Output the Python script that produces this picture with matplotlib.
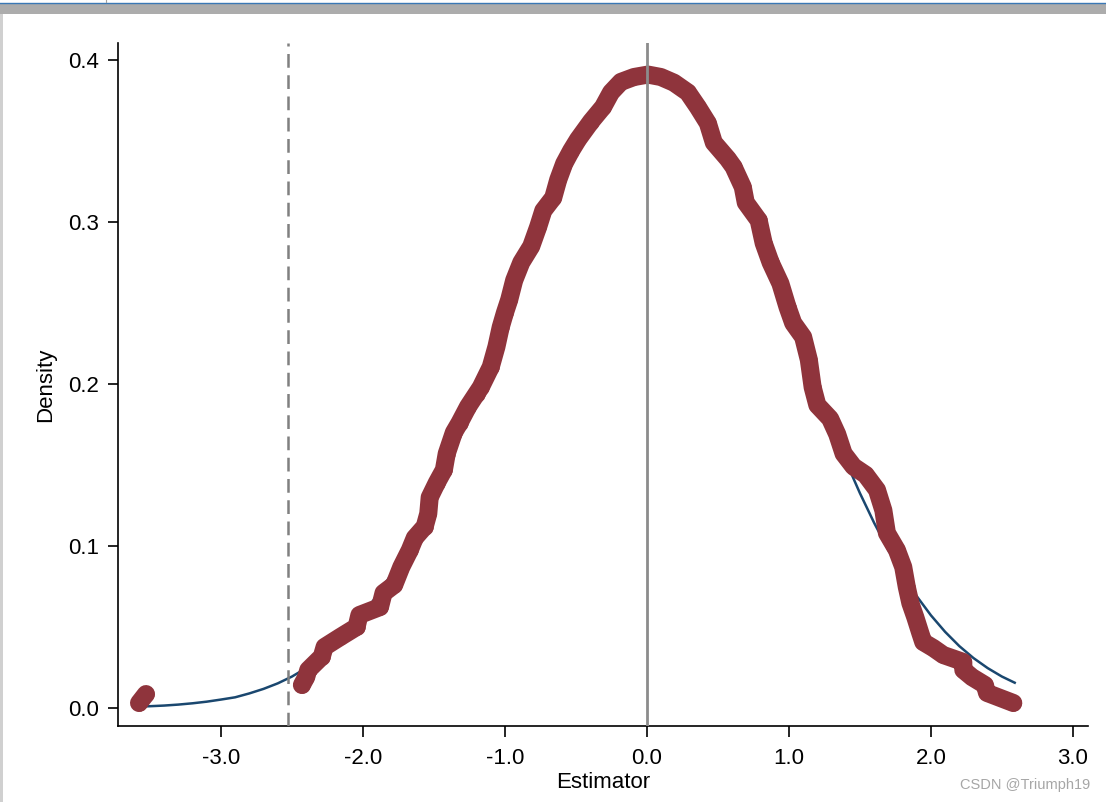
import numpy as np
import matplotlib
matplotlib.use("Agg")
import matplotlib.pyplot as plt
from matplotlib.patches import Rectangle
from matplotlib.lines import Line2D

plt.rcParams['font.family'] = ['Liberation Sans', 'DejaVu Sans']

# kernel density estimates at each estimator value
kd_x = [-3.577, -3.528,
        -2.43, -2.40, -2.385, -2.29, -2.27, -2.16, -2.045, -2.025, -1.88, -1.855,
        -1.78, -1.73, -1.67, -1.635, -1.565, -1.54, -1.53, -1.48, -1.43, -1.41,
        -1.36, -1.32, -1.26, -1.20, -1.17, -1.10, -1.06, -1.03, -1.00, -0.97,
        -0.935, -0.885, -0.815, -0.766, -0.73, -0.66, -0.625, -0.583, -0.534,
        -0.485, -0.394, -0.309, -0.253, -0.183, -0.091, 0.007, 0.098, 0.19,
        0.288, 0.358, 0.429, 0.471, 0.52, 0.569, 0.61, 0.675, 0.696, 0.787,
        0.822, 0.871, 0.94, 0.99, 1.03, 1.10, 1.14, 1.167, 1.20, 1.29, 1.34,
        1.385, 1.455, 1.54, 1.62, 1.665, 1.69, 1.76, 1.805, 1.83, 1.855, 1.89,
        1.925, 1.946, 2.017, 2.087, 2.228, 2.228, 2.29, 2.38, 2.395,
        2.58]
kd_y = [0.0031, 0.0086,
        0.0142, 0.019, 0.0235, 0.0317, 0.0377, 0.0438, 0.050, 0.0574, 0.0623, 0.071,
        0.076, 0.087, 0.0975, 0.105, 0.112, 0.120, 0.130, 0.139, 0.147, 0.157,
        0.170, 0.176, 0.186, 0.194, 0.198, 0.2105, 0.223, 0.235, 0.244, 0.252,
        0.264, 0.275, 0.285, 0.297, 0.307, 0.315, 0.326, 0.336, 0.344,
        0.351, 0.362, 0.371, 0.380, 0.3865, 0.3895, 0.391, 0.3895, 0.386,
        0.380, 0.371, 0.361, 0.349, 0.344, 0.339, 0.334, 0.3216, 0.312, 0.301,
        0.287, 0.275, 0.262, 0.2475, 0.2376, 0.229, 0.215, 0.198, 0.187, 0.1786, 0.169,
        0.157, 0.149, 0.144, 0.1346, 0.122, 0.108, 0.0975, 0.087, 0.0747, 0.0648, 0.056,
        0.0463, 0.0407, 0.037, 0.0327, 0.0284, 0.0235, 0.019, 0.0142, 0.0093,
        0.0031]

# normal density curve
norm_x = [-3.58, -3.5, -3.4, -3.3, -3.2, -3.1, -3.0, -2.9, -2.8, -2.7, -2.6, -2.5,
          -2.4, -2.3, -2.2, -2.0, -1.8, -1.6, -1.4, -1.2, -1.0, -0.8, -0.6, -0.4,
          -0.2, 0.0, 0.2, 0.4, 0.6, 0.8, 1.0, 1.2, 1.4, 1.5, 1.6, 1.7, 1.8, 1.9,
          2.0, 2.1, 2.2, 2.3, 2.4, 2.5, 2.59]
norm_y = [0.0008, 0.0011, 0.0015, 0.0021, 0.0029, 0.0039, 0.0052, 0.0066, 0.0090,
          0.0118, 0.0152, 0.0194, 0.0246, 0.0308, 0.0382, 0.0572, 0.0824, 0.1143,
          0.1525, 0.1958, 0.2419, 0.2876, 0.329, 0.362, 0.3836, 0.391, 0.3836,
          0.362, 0.329, 0.2876, 0.2419, 0.1958, 0.1525, 0.1326, 0.1143, 0.0975,
          0.0824, 0.069, 0.0572, 0.047, 0.0382, 0.0308, 0.0246, 0.0194, 0.0156]

crit_value = -2.528
xticks = [-3.0, -2.0, -1.0, 0.0, 1.0, 2.0, 3.0]
yticks = [0.0, 0.1, 0.2, 0.3, 0.4]

red = '#8f343c'
navy = '#1a476f'

fig = plt.figure(figsize=(11.06, 8.02), dpi=100)
ax = fig.add_axes([0.1067, 0.0948, 0.877, 0.8516])
ax.set_xlim(-3.725, 3.106)
ax.set_ylim(-0.0111, 0.4105)

ax.plot(norm_x, norm_y, color=navy, lw=1.8, zorder=2)

# thick band joining neighbouring points so the dense scatter reads as one stroke
pts = ax.transData.transform(np.column_stack([kd_x, kd_y]))
d = np.hypot(np.diff(pts[:, 0]), np.diff(pts[:, 1]))
start = 0
for i, gap in enumerate(d):
    if gap > 30:
        if i > start:
            ax.plot(kd_x[start:i + 1], kd_y[start:i + 1], color=red, lw=13,
                    solid_capstyle='round', solid_joinstyle='round', zorder=3)
        start = i + 1
if len(kd_x) - 1 > start:
    ax.plot(kd_x[start:], kd_y[start:], color=red, lw=13,
            solid_capstyle='round', solid_joinstyle='round', zorder=3)
ax.scatter(kd_x, kd_y, s=140, color=red, linewidths=0, zorder=3)

ax.axvline(crit_value, color='#808080', lw=1.8, dashes=(5.5, 3), zorder=4)
ax.axvline(0.0, color='#8c8c8c', lw=2.0, zorder=4)

for s in ['top', 'right']:
    ax.spines[s].set_visible(False)
for s in ['left', 'bottom']:
    ax.spines[s].set_linewidth(1.2)
ax.set_xticks(xticks)
ax.set_xticklabels(['%.1f' % v for v in xticks])
ax.set_yticks(yticks)
ax.set_yticklabels(['%.1f' % v for v in yticks])
ax.tick_params(axis='x', length=8, width=1.2, labelsize=16, pad=8)
ax.tick_params(axis='y', length=7.5, width=1.2, labelsize=16, pad=6)

ax.set_xlabel('Estimator', fontsize=16)
ax.xaxis.set_label_coords(0.5, -0.067)
ax.set_ylabel('Density', fontsize=16)
ax.yaxis.set_label_coords(-0.064, 0.5)

# window chrome around the screenshot
fig.add_artist(Rectangle((0, 1 - 14 / 802), 1, 11 / 802, transform=fig.transFigure,
                         color='#acacac', lw=0))
fig.add_artist(Line2D([0, 1], [1 - 2.5 / 802] * 2, transform=fig.transFigure,
                      color='#3a78b5', lw=1))
fig.add_artist(Line2D([106 / 1106] * 2, [1 - 2 / 802, 1], transform=fig.transFigure,
                      color='#a0a0a0', lw=0.8))
fig.add_artist(Rectangle((0, 0), 3 / 1106, 1 - 14 / 802, transform=fig.transFigure,
                         color='#d0d0d0', lw=0))

fig.text(1090 / 1106, 1 - 785 / 802, 'CSDN @Triumph19', ha='right', va='center',
         fontsize=10.5, color='#a6a6a6')

fig.savefig('out.png', dpi=100)
